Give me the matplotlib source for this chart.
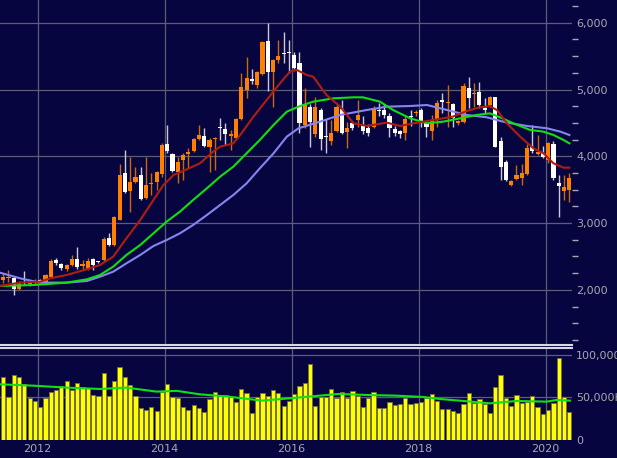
import numpy as np
import pandas as pd
import matplotlib
matplotlib.use("Agg")
import matplotlib.pyplot as plt
from matplotlib.ticker import FixedLocator, FuncFormatter

# monthly candles, Jun 2011 .. May 2020
start_month = "2011-06"

opens = [2148, 2173, 2180, 2020, 2120, 2090, 2110, 2150, 2123, 2198,
         2448, 2388, 2308, 2373, 2458, 2363, 2318, 2458, 2433, 2448,
         2772, 2672, 3046, 3755, 3486, 3610, 3720, 3371, 3580, 3610,
         3735, 4184, 4034, 3770, 3944, 4029, 4079, 4258, 4303, 4144,
         4254, 4443, 4408, 4309, 4269, 4558, 4992, 5157, 5067, 5232,
         5731, 5257, 5441, 5541, 5566, 5520, 5392, 4469, 4743, 4334,
         4694, 4300, 4229, 4384, 4703, 4369, 4494, 4550, 4464, 4419,
         4444, 4700, 4694, 4609, 4409, 4379, 4354, 4610, 4654, 4694,
         4494, 4384, 4544, 4843, 4793, 4783, 4494, 4519, 5028, 4928,
         4968, 4720, 4768, 4883, 4229, 3910, 3570, 3655, 3670, 3735,
         4135, 4030, 4045, 3945, 4185, 3605, 3485, 3495]
highs = [2248, 2298, 2200, 2130, 2283, 2140, 2170, 2170, 2240, 2460,
         2480, 2400, 2390, 2523, 2637, 2448, 2470, 2470, 2440, 2790,
         2847, 3100, 3885, 4095, 3995, 3845, 3845, 3995, 3745, 3780,
         4194, 4468, 4054, 3994, 4044, 4119, 4268, 4468, 4428, 4269,
         4293, 4578, 4493, 4393, 4573, 5242, 5491, 5302, 5282, 5730,
         5990, 5460, 5740, 5855, 5740, 5566, 5560, 5018, 4790, 4890,
         4720, 4560, 4544, 4780, 4843, 4520, 4530, 4843, 4600, 4480,
         4750, 4800, 4780, 4650, 4450, 4400, 4620, 4700, 4700, 4720,
         4520, 4620, 4843, 4943, 5068, 4800, 4544, 5100, 5192, 5092,
         5117, 4870, 4910, 4893, 4294, 3940, 3650, 3870, 3880, 4185,
         4469, 4320, 4155, 4220, 4235, 3720, 3720, 3745]
lows = [2098, 2123, 1930, 2000, 2073, 2060, 2080, 2110, 2100, 2190,
        2380, 2300, 2290, 2360, 2320, 2298, 2300, 2300, 2410, 2440,
        2650, 2660, 3040, 3456, 3172, 3600, 3350, 3360, 3420, 3495,
        3695, 4044, 3770, 3595, 3645, 3820, 4069, 4240, 4144, 3770,
        3795, 4244, 4169, 4094, 4254, 4540, 4867, 5077, 5027, 5220,
        4977, 4742, 5391, 5391, 5242, 5300, 4350, 4420, 4140, 4290,
        4100, 4050, 4170, 4370, 4330, 4120, 4400, 4440, 4340, 4300,
        4420, 4600, 4580, 4290, 4300, 4270, 4244, 4450, 4600, 4440,
        4294, 4244, 4444, 4644, 4444, 4444, 4470, 4500, 4718, 4743,
        4718, 4650, 4750, 4145, 3645, 3630, 3555, 3640, 3570, 3720,
        4045, 4020, 3970, 3895, 3645, 3095, 3345, 3320]
closes = [2188, 2198, 2010, 2110, 2110, 2105, 2125, 2130, 2223, 2438,
          2398, 2323, 2373, 2463, 2338, 2383, 2438, 2373, 2418, 2757,
          2672, 3096, 3720, 3471, 3620, 3690, 3356, 3570, 3605, 3760,
          4169, 4079, 3784, 3919, 4019, 4059, 4258, 4318, 4154, 4244,
          4269, 4418, 4333, 4333, 4558, 5042, 5167, 5132, 5257, 5716,
          5267, 5441, 5501, 5526, 5541, 5320, 4494, 4768, 4519, 4743,
          4259, 4290, 4354, 4743, 4354, 4419, 4429, 4620, 4379, 4344,
          4718, 4680, 4619, 4429, 4344, 4329, 4559, 4590, 4669, 4494,
          4444, 4544, 4793, 4808, 4818, 4579, 4529, 5053, 4878, 4943,
          4768, 4700, 4883, 4145, 3835, 3645, 3630, 3720, 3745, 4120,
          4085, 4060, 3995, 4205, 3670, 3555, 3535, 3680]

# volume in K
volumes = [73800, 50200, 76500, 74500, 65900, 49000, 45900, 39200, 49000, 56500,
           58800, 63500, 69400, 58800, 66700, 62700, 61600, 52900, 51800, 78800,
           51800, 69800, 86300, 73800, 64300, 52200, 37300, 34900, 38400, 34100,
           56100, 65900, 51000, 49800, 38800, 34900, 41200, 37300, 32900, 47800,
           56100, 52900, 52900, 50200, 44700, 60400, 54900, 31400, 51000, 54900,
           51800, 58800, 55700, 40000, 45900, 53700, 63100, 67500, 89800, 39600,
           51000, 51000, 59600, 49000, 56900, 49800, 58000, 51800, 38400, 49800,
           56900, 37600, 38000, 45100, 41200, 42700, 49800, 42700, 43900, 44300,
           49000, 53700, 45900, 36500, 36500, 34500, 31400, 42000, 54900, 43900,
           48600, 42700, 31400, 62000, 76500, 49000, 39600, 52500, 43900, 45100,
           51800, 38800, 30200, 35300, 43900, 96100, 50200, 32500]

# moving averages (month index, value)
ma_red_x = [-0.6, 3.2, 7, 8.9, 12, 15.8, 18.3, 20.8, 23.3, 25.9, 28.4, 30.3, 32.2,
            34.7, 37.2, 39.7, 41, 43.5, 44.8, 47.3, 49.8, 52.3, 54.2, 55.5, 57.4,
            58.6, 61.1, 63.7, 66.2, 68.7, 72.5, 75, 77.5, 81.3, 85, 87.6, 90.1,
            91.9, 93.3, 95.2, 97.7, 100.2, 102.1, 104, 105.9, 107]
ma_red_y = [2059, 2109, 2124, 2173, 2223, 2308, 2373, 2498, 2772, 3047, 3346, 3571, 3720,
            3805, 3895, 4070, 4144, 4194, 4319, 4594, 4843, 5092, 5267, 5292, 5217,
            5192, 4918, 4743, 4494, 4454, 4504, 4454, 4494, 4544, 4594, 4678, 4733,
            4753, 4693, 4494, 4294, 4120, 4045, 3895, 3830, 3830]
ma_green_x = [-0.6, 5.7, 12, 15.8, 18.3, 20.8, 23.3, 25.9, 28.4, 30.9, 33.4, 35.9, 38.5,
              41, 43.5, 46, 48.5, 51.1, 53.6, 56.1, 58.6, 62.4, 66.2, 68, 71.2, 73.7,
              76.9, 80.1, 83.2, 86.4, 89.5, 92, 93.9, 96.4, 99.6, 102.1, 104, 105.9, 107]
ma_green_y = [2059, 2073, 2109, 2158, 2223, 2348, 2523, 2672, 2847, 3022, 3171, 3346, 3521,
              3695, 3845, 4045, 4244, 4469, 4668, 4753, 4818, 4868, 4883, 4883, 4818, 4693,
              4569, 4494, 4519, 4569, 4619, 4643, 4584, 4494, 4394, 4369, 4319, 4244, 4194]
ma_blue_x = [-0.6, 3.2, 7, 12, 15.8, 18.3, 20.8, 23.3, 25.9, 28.4, 30.9, 33.4, 35.9,
             38.5, 41, 43.5, 46, 48.5, 51.1, 53.6, 55.8, 59.9, 63.7, 68.7, 72.5, 76.9,
             80.1, 83.9, 87.6, 91.4, 95.2, 99, 102.8, 105.3, 107]
ma_blue_y = [2258, 2173, 2109, 2109, 2133, 2198, 2273, 2398, 2523, 2657, 2747, 2847, 2972,
             3121, 3271, 3421, 3595, 3820, 4045, 4294, 4419, 4519, 4619, 4693, 4743, 4753,
             4768, 4693, 4619, 4584, 4504, 4454, 4419, 4369, 4319]
vol_ma_x = [-0.6, 5.7, 12, 18.3, 23.3, 29, 32.8, 37.2, 42.6, 48.9, 52.6, 57.7, 63.3,
            69, 74.1, 79.4, 82.6, 87, 92, 97.1, 102.7, 104.6, 107.1]
vol_ma_y = [65500, 63900, 61600, 60000, 61600, 56900, 57800, 53700, 51000, 46300, 48200,
            51000, 54100, 52900, 52200, 50600, 48200, 45900, 43100, 45900, 45100, 47100, 46300]

BG = "#06053f"
GRID = "#5c5c78"
TXT = "#a8a8b0"
UP = "#ff8000"
DOWN = "#ffffff"

months = pd.period_range(start_month, periods=len(closes), freq="M")
x = np.arange(len(closes))
o = np.array(opens); c = np.array(closes)
h = np.array(highs); l = np.array(lows)
up = c >= o

fig = plt.figure(figsize=(6.17, 4.58), dpi=100, facecolor=BG)
ax = fig.add_axes([0, 1 - 345 / 458, 572 / 617, 345 / 458])
axv = fig.add_axes([0, 1 - 440 / 458, 572 / 617, 92 / 458], sharex=ax)

for a in (ax, axv):
    a.set_facecolor(BG)
    a.set_axisbelow(True)
    for s in a.spines.values():
        s.set_visible(False)

# year grid
year_pos = [i - 0.5 for i, m in enumerate(months) if m.month == 1 and m.year % 2 == 0]
year_lab = [str(months[int(p + 0.5)].year) for p in year_pos]
for a in (ax, axv):
    for p in year_pos:
        a.axvline(p, color=GRID, lw=0.9, zorder=0)

# price panel
for v in range(2000, 6001, 1000):
    ax.axhline(v, color=GRID, lw=0.9, zorder=0)

ax.vlines(x[up], l[up], h[up], color="#c86a10", lw=1.0, zorder=2)
ax.vlines(x[~up], l[~up], h[~up], color="#c8c8d8", lw=1.0, zorder=2)
body_lo = np.minimum(o, c)
body_h = np.maximum(np.abs(c - o), 12)
ax.bar(x[up], body_h[up], bottom=body_lo[up], width=0.78, color=UP, edgecolor="none", zorder=3)
ax.bar(x[~up], body_h[~up], bottom=body_lo[~up], width=0.78, color=DOWN, edgecolor="none", zorder=3)

ax.plot(ma_blue_x, ma_blue_y, color="#8585f0", lw=1.5, zorder=4)
ax.plot(ma_green_x, ma_green_y, color="#10e010", lw=1.5, zorder=4)
ax.plot(ma_red_x, ma_red_y, color="#b01c10", lw=1.5, zorder=4)

ax.set_ylim(1175, 6340)
ax.set_xlim(-0.6, 107.5)
ax.yaxis.tick_right()
ax.yaxis.set_major_locator(FixedLocator([2000, 3000, 4000, 5000, 6000]))
ax.yaxis.set_major_formatter(FuncFormatter(lambda v, p: f"{v:,.0f}"))
ax.yaxis.set_minor_locator(FixedLocator([v for v in range(1250, 6300, 250) if v % 1000]))
ax.tick_params(axis="y", which="major", length=0, pad=3, labelsize=8, labelcolor=TXT)
ax.tick_params(axis="y", which="minor", length=4, width=1, color=TXT)
ax.tick_params(axis="x", length=0, labelbottom=False)
ax.spines["bottom"].set_visible(True)
ax.spines["bottom"].set_color("#d8d8e0")
ax.spines["bottom"].set_linewidth(1.5)

# volume panel
for v in (50000, 100000):
    axv.axhline(v, color=GRID, lw=0.9, zorder=0)
axv.bar(x, volumes, width=0.8, color="#ffff00", edgecolor="#707040", lw=0.6, zorder=2)
axv.plot(vol_ma_x, vol_ma_y, color="#10e010", lw=1.5, zorder=3)
axv.set_ylim(0, 108200)
axv.yaxis.tick_right()
axv.yaxis.set_major_locator(FixedLocator([0, 50000, 100000]))
axv.yaxis.set_major_formatter(FuncFormatter(lambda v, p: "0" if v == 0 else f"{v:,.0f}K"))
axv.tick_params(axis="y", length=0, pad=3, labelsize=8, labelcolor=TXT)
axv.spines["top"].set_visible(True)
axv.spines["top"].set_color("#d8d8e0")
axv.spines["top"].set_linewidth(1.5)
axv.set_xticks(year_pos)
axv.set_xticklabels(year_lab)
axv.tick_params(axis="x", length=0, pad=3, labelsize=8, labelcolor=TXT)

fig.savefig("out.png", dpi=100, facecolor=BG)
